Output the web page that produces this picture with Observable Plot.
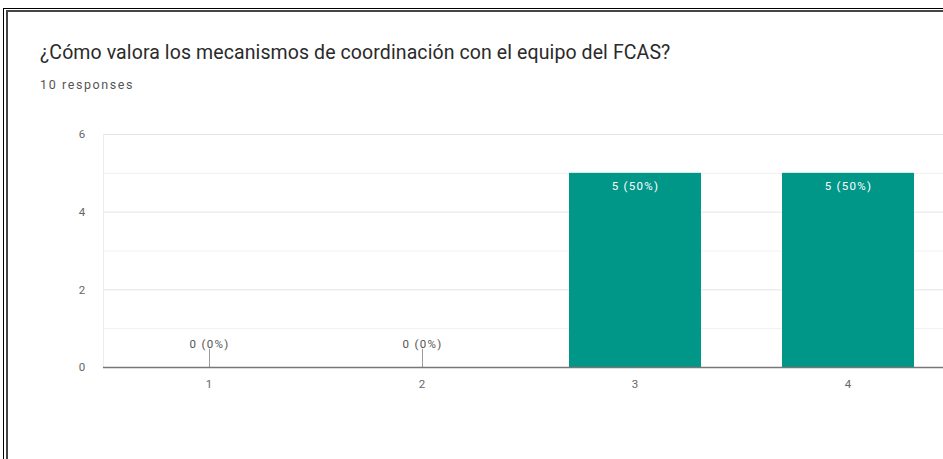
<!DOCTYPE html>
<html>
<head>
<meta charset="utf-8">
<script src="https://cdn.jsdelivr.net/npm/d3@7"></script>
<script src="https://cdn.jsdelivr.net/npm/@observablehq/plot@0.6"></script>
<style>
  html, body { margin: 0; padding: 0; background: #fff; overflow: hidden; width: 943px; height: 459px; }
  #frame { position: relative; width: 943px; height: 459px; overflow: hidden; }
  .b1 { position: absolute; background: #000; }
  .b2 { position: absolute; background: #444; }
  #title { position: absolute; left: 40px; top: 41px; font-family: Roboto, sans-serif; font-size: 19.5px; color: #2a2a2a; white-space: nowrap; letter-spacing: 0.1px; }
  #subtitle { position: absolute; left: 40px; top: 77px; font-family: Roboto, sans-serif; font-size: 12.5px; color: #555; white-space: nowrap; letter-spacing: 1.6px; }
  #chart { position: absolute; left: 0; top: 110px; width: 943px; overflow: hidden; }
  #chart svg { max-width: none !important; letter-spacing: 1.3px; display: block; }
</style>
</head>
<body>
<div id="frame">
  <div class="b1" style="left:3px;top:8px;width:940px;height:1px"></div>
  <div class="b1" style="left:3px;top:8px;width:1px;height:451px"></div>
  <div class="b2" style="left:6px;top:10px;width:937px;height:2px"></div>
  <div class="b2" style="left:6px;top:10px;width:2px;height:449px"></div>
  <div id="title">¿Cómo valora los mecanismos de coordinación con el equipo del FCAS?</div>
  <div id="subtitle">10 responses</div>
  <div id="chart"></div>
</div>
<script>
// Categories visible in the reference (the chart is cropped at the right edge)
const categories = [1, 2, 3, 4];
const counts = [0, 0, 5, 5];
const totalResponses = 10;
const yTicks = [0, 2, 4, 6];
const yMinorTicks = [1, 3, 5];

const data = categories.map((c, i) => ({
  cat: c,
  count: counts[i],
  label: `${counts[i]} (${Math.round(counts[i] / totalResponses * 100)}%)`
}));
const nonZero = data.filter(d => d.count > 0);
const zero = data.filter(d => d.count === 0);

const chart = Plot.plot({
  width: 960,
  height: 317,
  marginLeft: 103,
  marginRight: 5,
  marginTop: 24,
  marginBottom: 60,
  style: { fontFamily: "Roboto, sans-serif", fontSize: "12px", color: "#666", background: "transparent", maxWidth: "none" },
  x: { type: "band", domain: categories, paddingInner: 0.38, paddingOuter: 0.19, label: null },
  y: { domain: [0, 6], label: null },
  marks: [
    Plot.ruleY(yMinorTicks, { stroke: "#f1f1f1", strokeWidth: 1 }),
    Plot.ruleY(yTicks.filter(t => t > 0), { stroke: "#e4e4e4", strokeWidth: 1 }),
    Plot.frame({ anchor: "left", stroke: "#ededed" }),
    Plot.barY(nonZero, { x: "cat", y: "count", fill: "#009688" }),
    Plot.text(nonZero, { x: "cat", y: "count", text: "label", fill: "#ffffff", dy: 13, fontSize: 11.5 }),
    Plot.ruleX(zero, { x: "cat", y1: 0, y2: 0.47, stroke: "#9a9a9a", strokeWidth: 1 }),
    Plot.text(zero, { x: "cat", y: 0, text: "label", fill: "#555", dy: -23, fontSize: 11.5 }),
    Plot.ruleY([0], { stroke: "#777", strokeWidth: 1.5 }),
    Plot.axisY(yTicks, { tickSize: 0, tickPadding: 17, fill: "#666", fontSize: 11.5 }),
    Plot.axisX(categories, { tickSize: 0, tickPadding: 12, fill: "#666", fontSize: 11.5 })
  ]
});
document.getElementById("chart").appendChild(chart);
</script>
</body>
</html>
